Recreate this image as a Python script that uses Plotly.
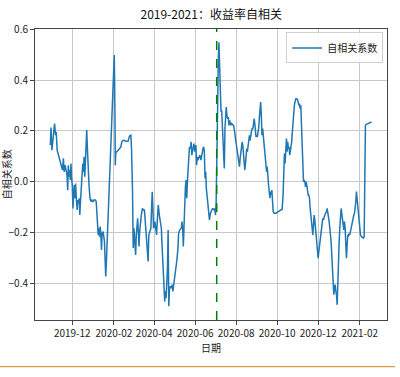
import pandas as pd
import plotly.graph_objects as go

# ---- data ----
base_date = "2019-12-01"
day_offsets = [
    -32.7, -31.7, -30.3, -29.3, -27.8, -26.4, -24.9, -23.9, -22.5, -20.5, -18.6, -16.6, -14.6, -13.2, -12.2,
    -10.7, -9.3, -7.8, -6.8, -5.9, -4.9, -3.9, -2.9, -2.0, -1.0, 0.0, 1.0, 2.0, 2.9, 3.9, 4.9, 6.3, 7.3, 8.3,
    9.3, 10.3, 11.2, 12.2, 13.7, 14.6, 15.6, 16.6, 17.6, 18.6, 19.5, 20.5, 21.5, 22.5, 23.4, 24.9, 26.4, 27.8,
    29.3, 30.8, 32.2, 34.2, 35.6, 37.1, 38.6, 39.6, 40.5, 41.5, 42.5, 43.5, 44.4, 45.9, 46.9, 47.9, 48.8, 49.8,
    50.8, 51.8, 53.2, 54.7, 56.2, 57.6, 59.1, 60.5, 61.5, 62.5, 63.5, 64.0, 64.9, 66.4, 68.4, 70.3, 72.3, 73.7,
    75.7, 77.6, 80.1, 83.0,
    85.2, 87.2, 88.2, 89.7, 90.7, 91.8, 92.8, 94.3, 95.3, 96.3, 97.3, 98.3, 99.3, 100.3, 101.3, 102.8, 104.4,
    105.9, 107.4, 108.4, 109.9, 111.4, 112.9, 113.9, 115.4, 117.0, 118.0, 119.0, 120.0, 121.0, 122.0, 123.0,
    124.0, 125.5, 126.5, 128.0, 129.6, 130.6, 131.6, 132.6, 133.6, 134.6, 135.6, 136.6, 137.6, 138.6, 139.6,
    140.6, 141.7, 142.7, 143.2, 143.7, 144.7, 145.7, 147.2, 148.7, 149.7, 151.2, 152.7, 154.3, 155.8, 157.3,
    158.3, 159.8, 161.3, 162.3, 163.3, 164.3, 165.3, 166.4, 167.4, 168.4, 169.4, 170.4, 171.4, 172.4, 173.4,
    174.4, 175.9, 176.9, 177.9, 179.5, 181.0, 182.5, 184.0, 185.0, 186.0, 187.0, 188.5, 190.0, 191.6, 193.1,
    194.6, 195.6, 196.6, 197.6, 198.6, 199.6, 201.1, 202.6, 204.2, 205.7, 207.2, 208.7, 210.2, 211.2, 212.2,
    213.2, 214.2, 215.2, 216.3, 217.3, 218.3,
    219.9, 220.4, 221.4, 222.4, 223.3, 224.3, 225.3, 226.3, 227.3, 228.3, 229.2, 230.2, 231.2, 232.2, 233.2,
    234.2, 235.1, 236.1, 237.1, 238.6, 240.1, 241.0, 242.0, 243.0, 244.0, 245.5, 247.0, 247.9, 248.9, 249.9,
    250.9, 251.9, 252.9, 253.8, 254.8, 255.8, 256.8, 257.8, 258.8, 259.7, 260.7, 261.7, 262.7, 263.7, 264.7,
    265.6, 266.6, 267.6, 268.6, 269.6, 270.6, 271.5, 272.5, 273.5, 274.5, 275.5, 276.5, 277.4, 278.4, 279.4,
    280.4, 281.4, 282.4, 283.4, 284.3, 285.3, 286.3, 287.3, 288.3, 289.3, 290.2, 291.2, 292.2, 293.2, 294.2,
    295.2, 296.1, 297.1, 298.1, 299.1, 300.6, 302.0, 303.5, 305.0, 306.5, 308.0, 309.4, 310.9, 312.4, 313.8,
    314.8, 315.8, 316.8, 317.8, 318.8, 319.8, 320.7, 321.7, 322.7, 323.7, 324.7, 325.7, 326.6, 327.6, 328.6,
    329.6, 330.6, 331.6,
    332.8, 334.3, 335.7, 337.2, 338.2, 339.2, 340.2, 341.2, 342.2, 343.2, 344.2, 345.2, 346.2, 347.2, 348.1,
    349.1, 350.1, 351.1, 352.1, 353.1, 354.1, 355.1, 356.1, 357.1, 358.1, 359.1, 360.0, 361.0, 362.0, 363.0,
    364.0, 365.0, 366.0, 367.0, 368.0, 369.0, 370.0, 371.0, 372.0, 372.9, 373.9, 374.9, 375.9, 376.9, 378.4,
    379.4, 380.4, 381.4, 382.4, 383.4, 384.4, 385.3, 386.3, 387.3, 388.3, 389.3, 390.3, 391.3, 392.3, 393.3,
    394.3, 395.3, 396.3, 397.3, 398.2, 399.2, 400.2, 401.2, 402.2, 403.2, 404.2, 405.2, 406.2, 407.2, 408.2,
    409.2, 410.1, 411.1, 412.1, 413.1, 414.1, 415.1, 416.1, 417.1, 418.1, 419.1, 420.1, 421.1, 422.1, 423.0,
    424.0, 425.0, 426.0, 427.0, 428.0, 429.0, 430.5, 432.0, 433.5, 434.5, 435.5, 436.4, 437.9, 440.4, 442.9,
    445.4,
]
acf_values = [
    0.144, 0.213, 0.124, 0.157, 0.190, 0.229, 0.183, 0.196, 0.124, 0.105, 0.078, 0.059, 0.046, 0.092, 0.039,
    0.065, 0.046, 0.026, -0.033, 0.065, 0.020, 0.046, 0.007, 0.072, 0.013, -0.013, -0.105, -0.039, -0.013, -0.065,
    -0.007, -0.078, -0.111, -0.072, -0.085, -0.065, -0.131, -0.078, -0.013, 0.026, 0.072, 0.039, 0.098, 0.020,
    0.078, 0.157, 0.203, 0.131, 0.052, -0.013, -0.065, -0.078, -0.072, -0.078, -0.072, -0.072, -0.078, -0.150,
    -0.209, -0.183, -0.216, -0.176, -0.203, -0.268, -0.203, -0.196, -0.209, -0.235, -0.301, -0.373, -0.314,
    -0.248, -0.183, -0.078, 0.026, 0.118, 0.222, 0.340, 0.418, 0.499, 0.275, 0.065, 0.118, 0.118, 0.124, 0.131,
    0.137, 0.157, 0.163, 0.162, 0.159, 0.159,
    0.180, 0.183, 0.131, -0.039, -0.261, -0.183, -0.216, -0.288, -0.209, -0.170, -0.144, -0.196, -0.255, -0.196,
    -0.157, -0.131, -0.105, -0.111, -0.111, -0.157, -0.209, -0.248, -0.314, -0.209, -0.190, -0.183, -0.105,
    -0.039, -0.105, -0.183, -0.176, -0.157, -0.190, -0.209, -0.157, -0.092, -0.131, -0.144, -0.157, -0.183,
    -0.248, -0.314, -0.366, -0.444, -0.471, -0.431, -0.458, -0.405, -0.340, -0.190, -0.340, -0.490, -0.418,
    -0.412, -0.418, -0.405, -0.431, -0.405, -0.373, -0.340, -0.307, -0.261, -0.203, -0.190, -0.183, -0.183,
    -0.157, -0.183, -0.255, -0.157, -0.078, -0.020, 0.007, -0.065, 0.000, 0.052, 0.131, 0.137, 0.131, 0.157,
    0.105, 0.137, 0.150, 0.118, 0.144, 0.065, 0.098, 0.085, 0.098, 0.105, 0.085, 0.118, 0.131, 0.137, 0.118,
    0.013, 0.039, -0.026, -0.078, -0.131, -0.150, -0.124, -0.111, -0.105, -0.111, -0.105, -0.111, -0.131,
    -0.078, 0.039, 0.275, 0.471, 0.549,
    0.405, 0.314, 0.275, 0.281, 0.209, 0.144, 0.105, 0.052, 0.209, 0.288, 0.294, 0.261, 0.248, 0.255, 0.222,
    0.242, 0.235, 0.222, 0.229, 0.225, 0.222, 0.209, 0.196, 0.170, 0.150, 0.124, 0.105, 0.078, 0.059, 0.092,
    0.118, 0.150, 0.157, 0.144, 0.105, 0.078, 0.046, 0.072, 0.105, 0.131, 0.118, 0.144, 0.157, 0.183, 0.163,
    0.190, 0.196, 0.209, 0.209, 0.222, 0.248, 0.235, 0.196, 0.176, 0.183, 0.176, 0.196, 0.209, 0.248, 0.288,
    0.314, 0.261, 0.183, 0.209, 0.183, 0.163, 0.131, 0.105, 0.078, 0.039, 0.059, 0.000, -0.013, -0.039, -0.065,
    -0.039, -0.052, -0.033, -0.078, -0.118, -0.124, -0.124, -0.124, -0.120, -0.118, -0.115, -0.111, -0.111,
    -0.108, -0.052, 0.039, 0.111, 0.072, 0.150, 0.170, 0.118, 0.157, 0.131, 0.137, 0.105, 0.118, 0.144, 0.157,
    0.196, 0.235, 0.288, 0.301, 0.314,
    0.327, 0.327, 0.320, 0.301, 0.307, 0.288, 0.301, 0.222, 0.131, 0.039, 0.000, 0.007, 0.000, -0.020, 0.000,
    -0.013, -0.052, -0.052, -0.052, -0.065, -0.105, -0.131, -0.150, -0.183, -0.209, -0.170, -0.131, -0.150,
    -0.183, -0.209, -0.242, -0.275, -0.301, -0.275, -0.248, -0.235, -0.222, -0.183, -0.150, -0.144, -0.150,
    -0.144, -0.131, -0.124, -0.118, -0.105, -0.118, -0.144, -0.157, -0.183, -0.209, -0.235, -0.288, -0.340,
    -0.392, -0.444, -0.418, -0.405, -0.431, -0.444, -0.484, -0.379, -0.261, -0.235, -0.183, -0.131, -0.105,
    -0.124, -0.144, -0.170, -0.190, -0.157, -0.183, -0.248, -0.301, -0.248, -0.209, -0.216, -0.203, -0.209,
    -0.196, -0.170, -0.157, -0.154, -0.137, -0.131, -0.124, -0.105, -0.078, -0.039, -0.065, -0.105, -0.131,
    -0.157, -0.183, -0.209, -0.216, -0.220, -0.222, -0.216, -0.052, 0.222, 0.226, 0.230, 0.233, 0.235,
]
break_date = "2020-07-03"
series_name = "自相关系数"
title_text = "2019-2021：收益率自相关"
x_label = "日期"
y_label = "自相关系数"
y_ticks = [-0.4, -0.2, 0.0, 0.2, 0.4, 0.6]

dates = pd.Timestamp(base_date) + pd.to_timedelta(day_offsets, unit="D")

FONT = "Noto Sans CJK SC, DejaVu Sans, sans-serif"

fig = go.Figure()
fig.add_trace(go.Scatter(
    x=dates, y=acf_values, mode="lines", name=series_name,
    line=dict(color="#1f77b4", width=1.5),
))

fig.add_shape(type="line", xref="x", yref="paper", x0=break_date, x1=break_date, y0=0, y1=1,
              line=dict(color="#008000", width=1.5, dash="dash"))

# orange separator line below the chart
fig.add_shape(type="line", xref="paper", yref="paper", x0=-0.1, x1=1.023, y0=-0.16, y1=-0.16,
              line=dict(color="#e39a3b", width=1.2))

fig.update_layout(
    width=400, height=377,
    margin=dict(l=35, r=13, t=29, b=57, autoexpand=False),
    paper_bgcolor="white", plot_bgcolor="white",
    font=dict(family=FONT, size=10, color="#222"),
    title=dict(text=title_text, x=0.528, xanchor="center", y=0.962, yanchor="middle",
               yref="container", font=dict(size=12, color="#111", family=FONT)),
    showlegend=True,
    legend=dict(x=0.989, y=0.988, xanchor="right", yanchor="top",
                bgcolor="rgba(255,255,255,0.85)", bordercolor="#d0d0d0", borderwidth=1,
                font=dict(size=10, family=FONT, color="#222"), itemwidth=30),
    xaxis=dict(
        type="date",
        range=["2019-10-06 12:00", "2021-03-13 12:00"],
        tick0="2019-12-01", dtick="M2", tickformat="%Y-%m",
        showgrid=True, gridcolor="#c8c8c8", gridwidth=1,
        showline=True, linecolor="#444", linewidth=1, mirror=True,
        ticks="outside", ticklen=4, tickcolor="#444",
        zeroline=False,
        title=dict(text=x_label, standoff=4, font=dict(size=10, family=FONT)),
    ),
    yaxis=dict(
        range=[-0.544, 0.601],
        tickvals=y_ticks, tickformat=".1f",
        showgrid=True, gridcolor="#c8c8c8", gridwidth=1,
        showline=True, linecolor="#444", linewidth=1, mirror=True,
        ticks="outside", ticklen=4, tickcolor="#444",
        zeroline=False,
        title=None,
    ),
    annotations=[
        dict(text=y_label, xref="paper", yref="paper", x=-0.08, y=0.5, xanchor="center",
             yanchor="middle", textangle=-90, showarrow=False,
             font=dict(size=10, family=FONT, color="#222")),
    ],
)

fig.write_html("out.html", config={"displayModeBar": False},
               post_script="document.body.style.margin='0';")
